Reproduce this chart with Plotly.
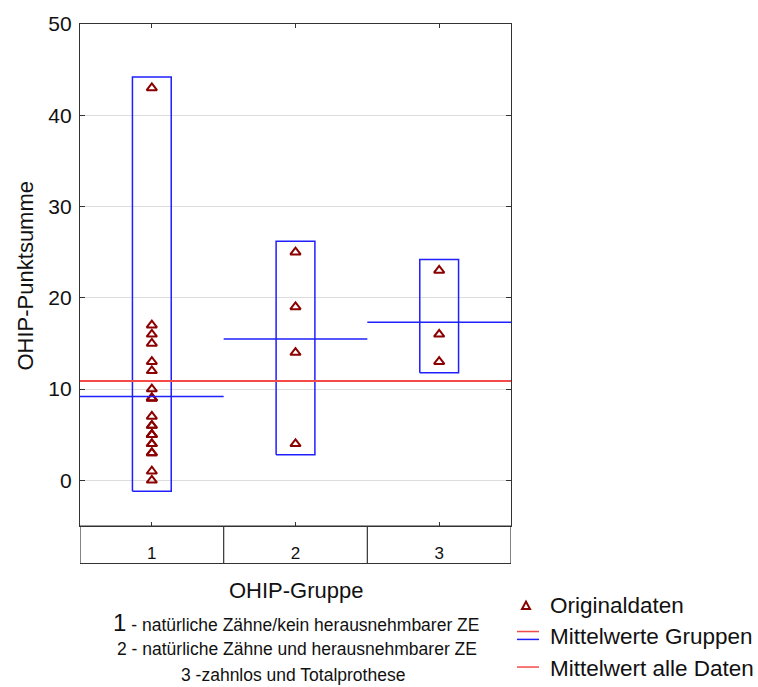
import plotly.graph_objects as go

# ---------------- data ----------------
groups = [1, 2, 3]
group_labels = ["1", "2", "3"]
g1_values = [43, 17, 16, 15, 13, 12, 10, 9, 9, 9, 7, 6, 6, 5, 5, 5, 4, 4, 3, 3, 1, 0]
g2_values = [25, 19, 14, 4]
g3_values = [23, 16, 13]
group_values = [g1_values, g2_values, g3_values]
y_ticks = [0, 10, 20, 30, 40, 50]

x_title = "OHIP-Gruppe"
y_title = "OHIP-Punktsumme"
legend_names = ["Originaldaten", "Mittelwerte Gruppen", "Mittelwert alle Daten"]

# ---------------- style ----------------
FONT = "Liberation Sans, Arial, sans-serif"
W, H = 758, 687
L, R, T, B = 80, 247, 17, 161
PW, PH = W - L - R, H - T - B
MARK = "#8b0000"
BLUE = "#1f1fff"
RED = "#f54a4a"
BOX_HALF = 0.135
BOX_PAD = 1.2


def px2x(px):
    return (px - L) / PW


def py2y(py):
    return (H - B - py) / PH


fig = go.Figure()

# points
for g, vals in zip(groups, group_values):
    fig.add_trace(go.Scatter(
        x=[g] * len(vals), y=vals, mode="markers",
        marker=dict(symbol="triangle-up-open", size=9, color=MARK,
                    line=dict(width=2, color=MARK)),
        showlegend=False, hoverinfo="y"))

# boxes (min/max range) and group means
for g, vals in zip(groups, group_values):
    lo, hi = min(vals) - BOX_PAD, max(vals) + BOX_PAD
    fig.add_trace(go.Scatter(
        x=[g - BOX_HALF, g + BOX_HALF, g + BOX_HALF, g - BOX_HALF, g - BOX_HALF],
        y=[lo, lo, hi, hi, lo], mode="lines",
        line=dict(color=BLUE, width=1.5), showlegend=False, hoverinfo="skip"))
    m = sum(vals) / len(vals)
    fig.add_trace(go.Scatter(
        x=[g - 0.5, g + 0.5], y=[m, m], mode="lines",
        line=dict(color=BLUE, width=1.5), showlegend=False, hoverinfo="skip"))

all_vals = [v for vals in group_values for v in vals]
overall = sum(all_vals) / len(all_vals)
fig.add_trace(go.Scatter(
    x=[groups[0] - 0.5, groups[-1] + 0.5], y=[overall, overall], mode="lines",
    line=dict(color=RED, width=2), showlegend=False, hoverinfo="skip"))

# category table below plot
tb = py2y(564)
shapes = []
shapes.append(dict(type="rect", xref="x", yref="paper", x0=0.5, x1=3.5, y0=tb, y1=0,
                   line=dict(color="#333", width=1.2)))
for xv in [1.5, 2.5]:
    shapes.append(dict(type="line", xref="x", yref="paper", x0=xv, x1=xv, y0=tb, y1=0,
                       line=dict(color="#333", width=1.2)))

# legend (manual)
cx, cy, hs = 526, 607, 4
tri = "M {:.5f},{:.5f} L {:.5f},{:.5f} L {:.5f},{:.5f} Z".format(
    px2x(cx - hs), py2y(cy + hs * 0.8), px2x(cx + hs), py2y(cy + hs * 0.8),
    px2x(cx), py2y(cy - hs * 1.1))
shapes.append(dict(type="path", xref="paper", yref="paper", path=tri,
                   line=dict(color=MARK, width=2)))
shapes.append(dict(type="line", xref="paper", yref="paper", x0=px2x(517), x1=px2x(539),
                   y0=py2y(633), y1=py2y(633), line=dict(color=RED, width=1.5)))
shapes.append(dict(type="line", xref="paper", yref="paper", x0=px2x(517), x1=px2x(539),
                   y0=py2y(641), y1=py2y(641), line=dict(color=BLUE, width=1.5)))
shapes.append(dict(type="line", xref="paper", yref="paper", x0=px2x(517), x1=px2x(539),
                   y0=py2y(669), y1=py2y(669), line=dict(color=RED, width=1.5)))
fig.update_layout(shapes=shapes)

annotations = []
for name, py in zip(legend_names, [607, 638, 670]):
    annotations.append(dict(text=name, xref="paper", yref="paper", x=px2x(548), y=py2y(py),
                            xanchor="left", yanchor="middle", showarrow=False,
                            font=dict(size=22.5, color="#111", family=FONT)))

annotations.append(dict(text=x_title, xref="paper", yref="paper", x=px2x(296), y=py2y(591),
                        xanchor="center", yanchor="middle", showarrow=False,
                        font=dict(size=22, color="#111", family=FONT)))
annotations.append(dict(text=y_title, xref="paper", yref="paper", x=px2x(25), y=py2y(272),
                        xanchor="center", yanchor="middle", textangle=-90, showarrow=False,
                        font=dict(size=22, color="#111", family=FONT)))
sub_lines = [
    ('<span style="font-size:24px">1</span> - natürliche Zähne/kein herausnehmbarer ZE', 296, 624),
    ("2 - natürliche Zähne und herausnehmbarer ZE", 297, 651),
    ("3 -zahnlos und Totalprothese", 293, 677),
]
for txt, px, py in sub_lines:
    annotations.append(dict(text=txt, xref="paper", yref="paper", x=px2x(px), y=py2y(py),
                            xanchor="center", yanchor="middle", showarrow=False,
                            font=dict(size=17.5, color="#111", family=FONT)))

fig.update_layout(
    annotations=annotations,
    width=W, height=H,
    margin=dict(l=L, r=R, t=T, b=B, pad=0),
    paper_bgcolor="white", plot_bgcolor="white",
    font=dict(family=FONT, color="#111"),
    showlegend=False,
    xaxis=dict(range=[0.5, 3.5], tickvals=groups, ticktext=group_labels,
               ticks="inside", ticklen=4, tickcolor="#333", showgrid=False,
               showline=True, linecolor="#333", linewidth=1.2, mirror="ticks",
               zeroline=False, tickfont=dict(size=17), ticklabelstandoff=11),
    yaxis=dict(range=[-5, 50], tickvals=y_ticks, ticks="inside", ticklen=5,
               tickcolor="#333", showgrid=True, gridcolor="#dddddd", gridwidth=1,
               showline=True, linecolor="#333", linewidth=1.2, mirror="ticks",
               zeroline=False, tickfont=dict(size=21), ticklabelstandoff=3),
)

fig.write_html("out.html")
